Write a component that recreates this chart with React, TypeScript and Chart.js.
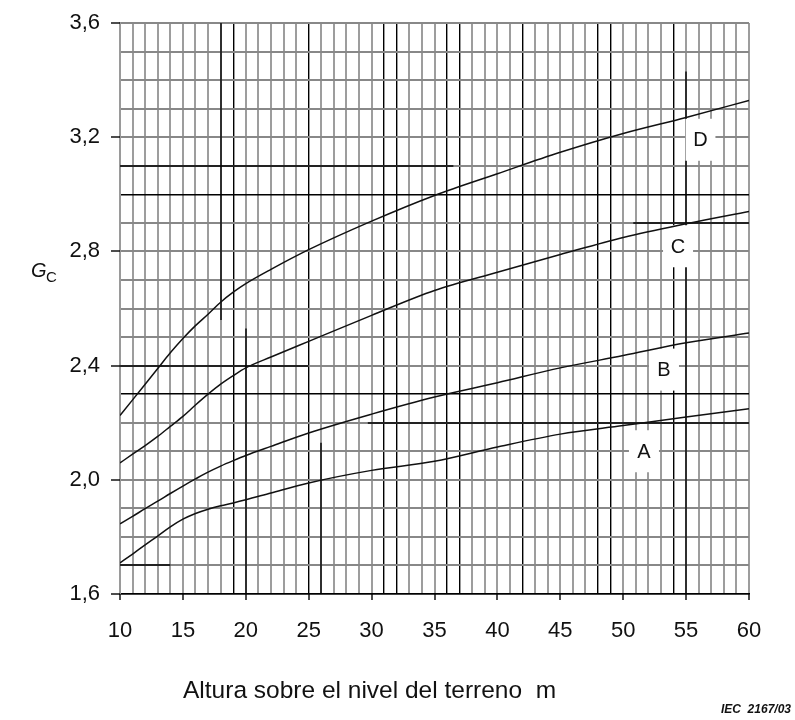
import { useEffect, useRef } from 'react';
import { Chart, registerables } from 'chart.js';

Chart.register(...registerables);

// Height above ground (m)
const X_VALUES = [10, 11, 12, 13, 14, 15, 16, 17, 18, 19, 20, 22, 25, 30, 35, 40, 45, 50, 55, 60];
// Gc curves
const CURVE_A = [1.709, 1.74, 1.772, 1.803, 1.835, 1.862, 1.882, 1.897, 1.909, 1.919, 1.93, 1.954, 1.989, 2.033, 2.065, 2.115, 2.16, 2.19, 2.22, 2.249];
const CURVE_B = [1.846, 1.872, 1.899, 1.925, 1.952, 1.978, 2.003, 2.027, 2.048, 2.067, 2.085, 2.117, 2.164, 2.23, 2.29, 2.34, 2.392, 2.435, 2.48, 2.514];
const CURVE_C = [2.059, 2.09, 2.12, 2.152, 2.187, 2.222, 2.262, 2.3, 2.335, 2.365, 2.392, 2.43, 2.485, 2.576, 2.663, 2.727, 2.789, 2.849, 2.897, 2.94];
const CURVE_D = [2.225, 2.28, 2.335, 2.39, 2.445, 2.495, 2.54, 2.58, 2.622, 2.657, 2.687, 2.737, 2.806, 2.906, 2.996, 3.072, 3.147, 3.213, 3.269, 3.329];

const CURVE_NAMES = ['A', 'B', 'C', 'D'];
const LABEL_X = [51.65, 53.24, 54.36, 56.14];
const LABEL_Y = [2.1, 2.386, 2.818, 3.191];

const X_MIN = 10;
const X_MAX = 60;
const Y_MIN = 1.6;
const Y_MAX = 3.6;

// darker rulings of the scanned grid paper
const FULL_BLACK_X = [19, 25, 31, 32, 36, 37, 42, 48, 49, 54];
const FULL_BLACK_Y = [3.0, 2.3];
const PART_BLACK_X = [[18, 3.6, 2.56], [20, 2.53, 1.6], [26, 2.13, 1.6], [55, 3.43, 1.6]];
const PART_BLACK_Y = [[3.1, 10, 36.5], [2.9, 50.8, 60], [2.4, 10, 25], [2.2, 29.7, 60], [1.7, 10, 14]];

const X_TITLE = 'Altura sobre el nivel del terreno  m';
const FOOTNOTE = 'IEC  2167/03';

const FONT = '"Liberation Sans", Arial, sans-serif';

const near = (a: number, b: number) => Math.abs(a - b) < 1e-6;

const scanPlugin = {
  id: 'scanPlugin',
  beforeDatasetsDraw(chart: any) {
    const { ctx, scales } = chart;
    const xs = scales.x;
    const ys = scales.y;
    ctx.save();
    ctx.strokeStyle = '#000';
    ctx.lineWidth = 1.4;
    for (const [v, y0, y1] of PART_BLACK_X) {
      const px = Math.round(xs.getPixelForValue(v));
      ctx.beginPath();
      ctx.moveTo(px, ys.getPixelForValue(y0));
      ctx.lineTo(px, ys.getPixelForValue(y1));
      ctx.stroke();
    }
    for (const [v, x0, x1] of PART_BLACK_Y) {
      const py = Math.round(ys.getPixelForValue(v));
      ctx.beginPath();
      ctx.moveTo(xs.getPixelForValue(x0), py);
      ctx.lineTo(xs.getPixelForValue(x1), py);
      ctx.stroke();
    }
    // white label boxes
    ctx.font = `20px ${FONT}`;
    ctx.textAlign = 'center';
    ctx.textBaseline = 'middle';
    CURVE_NAMES.forEach((name, i) => {
      const cx = xs.getPixelForValue(LABEL_X[i]);
      const cy = ys.getPixelForValue(LABEL_Y[i]);
      ctx.fillStyle = '#fff';
      ctx.fillRect(cx - 15, cy - 21, 30, 42);
      ctx.fillStyle = '#111';
      ctx.fillText(name, cx, cy + 1);
    });
    ctx.restore();
  },
  afterDraw(chart: any) {
    const { ctx, scales, chartArea } = chart;
    const xs = scales.x;
    const ys = scales.y;
    ctx.save();
    ctx.strokeStyle = '#000';
    ctx.lineWidth = 1.4;
    // ticks below x axis
    for (let v = X_MIN; v <= X_MAX; v += 5) {
      const px = Math.round(xs.getPixelForValue(v));
      ctx.beginPath();
      ctx.moveTo(px, chartArea.bottom);
      ctx.lineTo(px, chartArea.bottom + 6);
      ctx.stroke();
    }
    // ticks left of y axis
    for (let i = 0; i <= 5; i++) {
      const v = Y_MIN + i * 0.4;
      const py = Math.round(ys.getPixelForValue(v));
      ctx.beginPath();
      ctx.moveTo(chartArea.left - 9, py);
      ctx.lineTo(chartArea.left, py);
      ctx.stroke();
    }
    ctx.fillStyle = '#111';
    // y axis symbol G_C
    const gy = ys.getPixelForValue(2.71);
    ctx.textAlign = 'left';
    ctx.textBaseline = 'alphabetic';
    ctx.font = `italic 20px ${FONT}`;
    ctx.fillText('G', 31, gy);
    ctx.font = `15px ${FONT}`;
    ctx.fillText('C', 46, gy + 5);
    // x title
    ctx.font = `24.5px ${FONT}`;
    ctx.fillText(X_TITLE, 183, 698);
    // footnote
    ctx.font = `bold italic 12px ${FONT}`;
    ctx.textAlign = 'right';
    ctx.fillText(FOOTNOTE, 791, 713);
    ctx.restore();
  },
};

export default function App() {
  const ref = useRef<HTMLCanvasElement | null>(null);

  useEffect(() => {
    document.body.style.margin = '0';
    const canvas = ref.current;
    if (!canvas) return;
    const mk = (vals: number[]) => X_VALUES.map((x, i) => ({ x, y: vals[i] }));
    const series = [CURVE_A, CURVE_B, CURVE_C, CURVE_D];
    const chart = new Chart(canvas, {
      type: 'line',
      data: {
        datasets: series.map((vals, i) => ({
          label: CURVE_NAMES[i],
          data: mk(vals),
          borderColor: '#111',
          borderWidth: 1.5,
          pointRadius: 0,
          fill: false,
          cubicInterpolationMode: 'monotone' as const,
        })),
      },
      options: {
        responsive: false,
        animation: false,
        events: [],
        layout: { padding: { left: 0, right: 46, top: 23, bottom: 0 } },
        plugins: {
          legend: { display: false },
          tooltip: { enabled: false },
          title: { display: false },
        },
        scales: {
          x: {
            type: 'linear',
            min: X_MIN,
            max: X_MAX,
            afterFit: (s: any) => {
              s.height = 126;
              s.paddingLeft = 0;
              s.paddingRight = 0;
            },
            border: { display: true, color: '#000', width: 1.5 },
            grid: {
              drawTicks: false,
              color: (c: any) => (FULL_BLACK_X.some((v) => near(v, c.tick?.value)) ? '#000' : '#9d9d9d'),
              lineWidth: (c: any) => (FULL_BLACK_X.some((v) => near(v, c.tick?.value)) ? 1.4 : 2),
            },
            ticks: {
              stepSize: 1,
              autoSkip: false,
              maxRotation: 0,
              padding: 24,
              color: '#111',
              font: { family: FONT, size: 22 },
              callback: (v: any) => (Number(v) % 5 === 0 ? String(v) : ''),
            },
          },
          y: {
            type: 'linear',
            min: Y_MIN,
            max: Y_MAX,
            afterFit: (s: any) => {
              s.width = 120;
              s.paddingTop = 0;
              s.paddingBottom = 0;
            },
            border: { display: true, color: '#9a9a9a', width: 2 },
            grid: {
              drawTicks: false,
              color: (c: any) => (FULL_BLACK_Y.some((v) => near(v, c.tick?.value)) ? '#000' : '#888'),
              lineWidth: (c: any) => (FULL_BLACK_Y.some((v) => near(v, c.tick?.value)) ? 1.4 : 2),
            },
            ticks: {
              stepSize: 0.1,
              autoSkip: false,
              padding: 20,
              color: '#111',
              font: { family: FONT, size: 22 },
              callback: (v: any) => {
                const n = Math.round(Number(v) * 10);
                return n % 4 === 0 ? (n / 10).toFixed(1).replace('.', ',') : '';
              },
            },
          },
        },
      },
      plugins: [scanPlugin],
    });
    return () => chart.destroy();
  }, []);

  return <canvas ref={ref} width={795} height={720} style={{ display: 'block' }} />;
}
